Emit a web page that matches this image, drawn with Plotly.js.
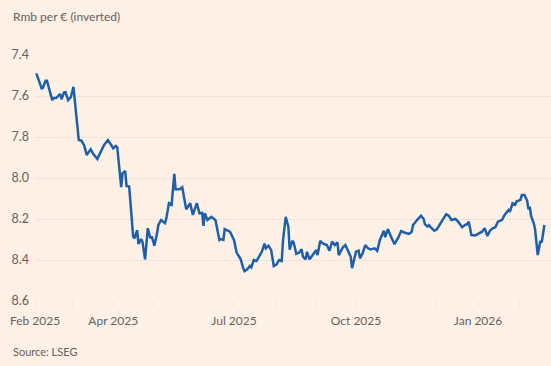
<!DOCTYPE html>
<html>
<head>
<meta charset="utf-8">
<script src="https://cdn.plot.ly/plotly-3.0.1.min.js"></script>
<style>html,body{margin:0;padding:0;background:#FFF1E5;}#chart{width:551px;height:366px;}</style>
</head>
<body>
<div id="chart"></div>
<script>
const dates = [
"2025-02-02","2025-02-06","2025-02-07","2025-02-09","2025-02-10","2025-02-12","2025-02-14","2025-02-15","2025-02-17","2025-02-20",
"2025-02-21","2025-02-23","2025-02-24","2025-02-26","2025-02-28","2025-03-02","2025-03-06","2025-03-08","2025-03-10","2025-03-12",
"2025-03-15","2025-03-17","2025-03-20","2025-03-22","2025-03-25","2025-03-28","2025-03-30","2025-04-01","2025-04-03","2025-04-04",
"2025-04-07","2025-04-08","2025-04-10","2025-04-11","2025-04-13","2025-04-16","2025-04-17","2025-04-19","2025-04-20","2025-04-22",
"2025-04-23","2025-04-25","2025-04-27","2025-04-29","2025-04-30","2025-05-02","2025-05-04","2025-05-05","2025-05-07","2025-05-10",
"2025-05-11","2025-05-13","2025-05-15","2025-05-17","2025-05-18","2025-05-21","2025-05-23","2025-05-25","2025-05-26","2025-05-29",
"2025-05-31","2025-06-03","2025-06-05","2025-06-07","2025-06-08","2025-06-09","2025-06-11","2025-06-14","2025-06-17","2025-06-20",
"2025-06-21","2025-06-23","2025-06-24","2025-06-28","2025-07-01","2025-07-03","2025-07-06","2025-07-08","2025-07-09","2025-07-11",
"2025-07-13","2025-07-14","2025-07-16","2025-07-18","2025-07-20","2025-07-22","2025-07-24","2025-07-25","2025-07-27","2025-07-29",
"2025-07-31","2025-08-02","2025-08-04","2025-08-06","2025-08-07","2025-08-09","2025-08-11","2025-08-12","2025-08-14","2025-08-15",
"2025-08-17","2025-08-19","2025-08-21","2025-08-22","2025-08-24","2025-08-25","2025-08-27","2025-08-29","2025-09-01","2025-09-02",
"2025-09-04","2025-09-06","2025-09-09","2025-09-11","2025-09-13","2025-09-15","2025-09-17","2025-09-18","2025-09-21","2025-09-23",
"2025-09-25","2025-09-27","2025-09-28","2025-09-30","2025-10-01","2025-10-03","2025-10-04","2025-10-06","2025-10-08","2025-10-10",
"2025-10-12","2025-10-15","2025-10-17","2025-10-19","2025-10-22","2025-10-23","2025-10-25","2025-10-27","2025-10-30","2025-11-02",
"2025-11-04","2025-11-07","2025-11-10","2025-11-12","2025-11-13","2025-11-16","2025-11-18","2025-11-19","2025-11-21","2025-11-22",
"2025-11-24","2025-11-25","2025-11-27","2025-11-29","2025-12-01","2025-12-03","2025-12-06","2025-12-08","2025-12-10","2025-12-12",
"2025-12-15","2025-12-17","2025-12-20","2025-12-22","2025-12-24","2025-12-25","2025-12-27","2025-12-30","2026-01-01","2026-01-04",
"2026-01-06","2026-01-08","2026-01-10","2026-01-12","2026-01-14","2026-01-16","2026-01-19","2026-01-21","2026-01-24","2026-01-25",
"2026-01-27","2026-01-29","2026-01-30","2026-02-02","2026-02-03","2026-02-05","2026-02-07","2026-02-08","2026-02-09","2026-02-10",
"2026-02-12","2026-02-13","2026-02-15","2026-02-17","2026-02-18","2026-02-20"
];
const rmbPerEuro = [
7.49,7.563,7.56,7.525,7.525,7.574,7.62,7.61,7.61,7.59,
7.616,7.582,7.582,7.62,7.606,7.555,7.815,7.818,7.84,7.888,
7.86,7.883,7.907,7.88,7.84,7.815,7.834,7.855,7.844,7.85,
8.045,7.977,7.966,8.039,8.042,8.286,8.294,8.254,8.322,8.298,
8.31,8.397,8.245,8.294,8.285,8.33,8.27,8.229,8.205,8.22,
8.197,8.123,8.13,7.98,8.055,8.055,8.045,8.115,8.153,8.123,
8.18,8.123,8.172,8.17,8.234,8.172,8.205,8.19,8.205,8.302,
8.298,8.302,8.249,8.262,8.302,8.364,8.395,8.44,8.454,8.445,
8.429,8.436,8.4,8.405,8.384,8.36,8.32,8.343,8.33,8.351,
8.429,8.422,8.4,8.405,8.302,8.19,8.237,8.35,8.306,8.315,
8.37,8.365,8.348,8.384,8.397,8.36,8.397,8.376,8.351,8.376,
8.307,8.319,8.327,8.355,8.31,8.327,8.314,8.376,8.339,8.327,
8.356,8.384,8.44,8.389,8.36,8.355,8.392,8.367,8.327,8.343,
8.348,8.343,8.355,8.302,8.257,8.289,8.249,8.28,8.323,8.289,
8.259,8.267,8.273,8.262,8.229,8.205,8.189,8.184,8.2,8.226,
8.237,8.23,8.245,8.257,8.25,8.226,8.197,8.177,8.185,8.205,
8.2,8.213,8.24,8.23,8.224,8.213,8.278,8.28,8.273,8.262,
8.245,8.283,8.257,8.245,8.24,8.213,8.205,8.18,8.156,8.165,
8.123,8.13,8.115,8.107,8.083,8.083,8.11,8.153,8.14,8.185,
8.221,8.25,8.376,8.307,8.315,8.229
];
const monthTicks = ["2025-02-01","2025-03-01","2025-04-01","2025-05-01","2025-06-01","2025-07-01","2025-08-01","2025-09-01","2025-10-01","2025-11-01","2025-12-01","2026-01-01","2026-02-01"];
const monthLabels = ["Feb 2025","","Apr 2025","","","Jul 2025","","","Oct 2025","","","Jan 2026",""];
const yTicks = [7.4,7.6,7.8,8.0,8.2,8.4,8.6];
const yLabels = ["7.4","7.6","7.8","8.0","8.2","8.4","8.6"];

const font = "Lato, 'Noto Sans', sans-serif";
const grey = "#66605C";

Plotly.newPlot("chart", [{
  x: dates, y: rmbPerEuro, type: "scatter", mode: "lines",
  line: {color: "#1D60A9", width: 2.5}, hoverinfo: "skip"
}], {
  width: 551, height: 366,
  paper_bgcolor: "#FFF1E5", plot_bgcolor: "#FFF1E5",
  margin: {l: 35, r: 0, t: 55, b: 65},
  showlegend: false,
  font: {family: font, size: 12, color: grey},
  xaxis: {
    type: "date", range: ["2025-02-01", "2026-02-25"],
    tickmode: "array", tickvals: monthTicks, ticktext: monthLabels,
    showgrid: false, zeroline: false, showline: false,
    ticks: "outside", ticklen: 4, tickcolor: "#EEDFD2", tickwidth: 1,
    ticklabelstandoff: 5,
    tickfont: {family: font, size: 12, color: grey}
  },
  yaxis: {
    range: [8.6, 7.4], autorange: false,
    tickmode: "array", tickvals: yTicks, ticktext: yLabels,
    showgrid: true, gridcolor: "#F3E3D6", gridwidth: 1,
    zeroline: false, showline: false, ticks: "",
    ticklabelstandoff: 5,
    tickfont: {family: font, size: 12.5, color: grey}
  },
  annotations: [
    {text: "Rmb per € (inverted)", xref: "paper", yref: "paper", x: -24/516, y: 1 + 38/246,
     xanchor: "left", yanchor: "middle", showarrow: false, font: {family: font, size: 12, color: grey}},
    {text: "Source: LSEG", xref: "paper", yref: "paper", x: -24/516, y: -50/246,
     xanchor: "left", yanchor: "middle", showarrow: false, font: {family: font, size: 11, color: grey}}
  ]
}, {staticPlot: true, displayModeBar: false});
</script>
</body>
</html>
